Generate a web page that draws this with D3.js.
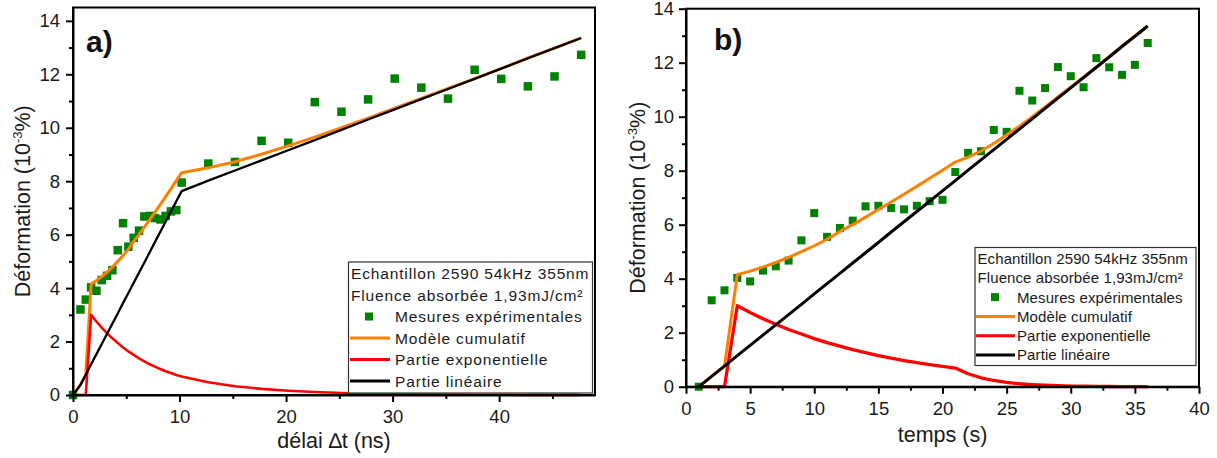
<!DOCTYPE html>
<html><head><meta charset="utf-8">
<script src="https://cdn.jsdelivr.net/npm/d3@7"></script>
<style>
html,body{margin:0;padding:0;background:#fff;}
svg{display:block;font-family:"Liberation Sans",Arial,sans-serif;}
</style></head>
<body><svg id="c" width="1217" height="458"></svg>
<script>
// ---------- DATA ----------
const measValues = [0.0, 3.2, 3.57, 4.03, 3.9, 4.3, 4.46, 4.67, 5.42, 6.43, 5.55, 5.88, 6.15, 6.68, 6.7, 6.62, 6.57, 6.7, 6.87, 6.92, 7.95, 8.66, 8.72, 9.51, 9.44, 10.96, 10.6, 11.06, 11.84, 11.5, 11.09, 12.17, 11.83, 11.55, 11.92, 12.73];
const delaysNs = [0, 0.7, 1.2, 1.7, 2.2, 2.7, 3.2, 3.7, 4.2, 4.7, 5.2, 5.7, 6.2, 6.7, 7.2, 7.7, 8.2, 8.7, 9.2, 9.7, 10.2, 12.7, 15.2, 17.7, 20.2, 22.7, 25.2, 27.7, 30.2, 32.7, 35.2, 37.7, 40.2, 42.7, 45.2, 47.7];
const tempsS = [1, 2, 3, 4, 5, 6, 7, 8, 9, 10, 11, 12, 13, 14, 15, 16, 17, 18, 19, 20, 21, 22, 23, 24, 25, 26, 27, 28, 29, 30, 31, 32, 33, 34, 35, 36];
const modeleCumulatif = [0, 0.38, 0.76, 4.15, 4.28, 4.43, 4.60, 4.79, 5.00, 5.22, 5.46, 5.75, 6.00, 6.28, 6.56, 6.84, 7.13, 7.42, 7.72, 8.02, 8.32, 8.50, 8.73, 9.01, 9.32, 9.65, 10.00, 10.36, 10.73, 11.10, 11.47, 11.84, 12.22, 12.61, 12.98, 13.36];
const partieExpo = [0, 0, 0, 3.0, 2.75, 2.52, 2.31, 2.12, 1.95, 1.78, 1.63, 1.50, 1.37, 1.26, 1.15, 1.06, 0.97, 0.89, 0.82, 0.75, 0.69, 0.48, 0.33, 0.23, 0.16, 0.11, 0.077, 0.053, 0.037, 0.025, 0.018, 0.012, 0.008, 0.006, 0.004, 0.003];
const partieLineaire = [0, 0.38, 0.76, 1.15, 1.53, 1.91, 2.29, 2.67, 3.05, 3.44, 3.82, 4.20, 4.58, 4.96, 5.34, 5.73, 6.11, 6.49, 6.87, 7.25, 7.63, 8.02, 8.40, 8.78, 9.16, 9.54, 9.92, 10.31, 10.69, 11.07, 11.45, 11.83, 12.21, 12.60, 12.98, 13.36];
const yTicks = [0, 2, 4, 6, 8, 10, 12, 14];
const yMinorTicks = [1, 3, 5, 7, 9, 11, 13];
const xTicksA = [0, 10, 20, 30, 40];
const xMinorTicksA = [5, 15, 25, 35, 45];
const xTicksB = [0, 5, 10, 15, 20, 25, 30, 35, 40];
const xMinorTicksB = [2.5, 7.5, 12.5, 17.5, 22.5, 27.5, 32.5, 37.5];
const legendHeader = ["Echantillon 2590 54kHz 355nm", "Fluence absorbée 1,93mJ/cm²"];
const seriesNames = ["Mesures expérimentales", "Modèle cumulatif", "Partie exponentielle", "Partie linéaire"];
const panelLabels = ["a)", "b)"];
const xTitles = ["délai \u2206t (ns)", "temps (s)"];

// ---------- DRAW ----------
const svg = d3.select("#c");
const COL = {meas:"#008000", cum:"#FF8000", exp:"#FF0000", lin:"#000000"};

const panels = [
  {xs: delaysNs, left:73, right:595, top:7.5, bottom:395, xDom:[0,49], yDom:[0,14.5],
   xt:xTicksA, xm:xMinorTicksA, label:panelLabels[0], labelX:86, labelY:52, xTitle:xTitles[0],
   xTitleY:448, yTitleX:29.5, ytPad:6, w:{cum:3,exp:2.6,lin:2.3}, msz:8.5,
   leg:{x:348.5,y:262,w:244,h:131,row0:273.5,dr:21.5,tx:351,lx0:350,lx1:390,sx:369,stx:395,fs:15.5,ls:0.85}},
  {xs: tempsS, left:686, right:1199, top:8.7, bottom:386.7, xDom:[0,40], yDom:[0,14],
   xt:xTicksB, xm:xMinorTicksB, label:panelLabels[1], labelX:714, labelY:50, xTitle:xTitles[1],
   xTitleY:442, yTitleX:645, ytPad:5, w:{cum:3,exp:3.3,lin:3}, msz:8,
   leg:{x:975,y:247.5,w:221,h:118,row0:258.5,dr:19.3,tx:977.5,lx0:976,lx1:1015,sx:995,stx:1017,fs:15,ls:0.1}}
];

panels.forEach(p => {
  const x = d3.scaleLinear().domain(p.xDom).range([p.left, p.right]);
  const y = d3.scaleLinear().domain(p.yDom).range([p.bottom, p.top]);
  const g = svg.append("g");

  // data layer
  const idx = d3.range(p.xs.length);
  g.selectAll("rect.m").data(idx).join("rect")
    .attr("x", i => x(p.xs[i]) - p.msz/2).attr("y", i => y(measValues[i]) - p.msz/2)
    .attr("width", p.msz).attr("height", p.msz).attr("fill", COL.meas);

  const mk = arr => d3.line().x(i => x(p.xs[i])).y(i => y(arr[i]));
  g.append("path").attr("d", mk(modeleCumulatif)(idx)).attr("fill","none")
    .attr("stroke", COL.cum).attr("stroke-width", p.w.cum).attr("stroke-linejoin","round");
  g.append("path").attr("d", mk(partieExpo)(idx)).attr("fill","none")
    .attr("stroke", COL.exp).attr("stroke-width", p.w.exp).attr("stroke-linejoin","round");
  g.append("path").attr("d", mk(partieLineaire)(idx)).attr("fill","none")
    .attr("stroke", COL.lin).attr("stroke-width", p.w.lin).attr("stroke-linejoin","round");

  // frame
  g.append("rect").attr("x", p.left).attr("y", p.top).attr("width", p.right-p.left)
    .attr("height", p.bottom-p.top).attr("fill","none").attr("stroke","#000").attr("stroke-width",2);

  // axes
  const xa = g.append("g").attr("transform", `translate(0,${p.bottom})`)
    .call(d3.axisBottom(x).tickValues(p.xt).tickSize(7).tickSizeOuter(0).tickPadding(8).tickFormat(d3.format("d")));
  g.append("g").attr("transform", `translate(0,${p.bottom})`)
    .call(d3.axisBottom(x).tickValues(p.xm).tickSize(4).tickSizeOuter(0).tickFormat(""))
    .select(".domain").remove();
  const ya = g.append("g").attr("transform", `translate(${p.left},0)`)
    .call(d3.axisLeft(y).tickValues(yTicks).tickSize(7).tickSizeOuter(0).tickPadding(p.ytPad).tickFormat(d3.format("d")));
  g.append("g").attr("transform", `translate(${p.left},0)`)
    .call(d3.axisLeft(y).tickValues(yMinorTicks).tickSize(4).tickSizeOuter(0).tickFormat(""))
    .select(".domain").remove();
  g.selectAll(".domain").attr("stroke-width", 2);
  g.selectAll(".tick line").attr("stroke-width", 2);
  g.selectAll(".tick text").attr("font-size", 18.5).attr("fill","#1a1a1a")
    .attr("font-family","'Liberation Sans',Arial,sans-serif");

  // titles
  g.append("text").attr("x", (p.left+p.right)/2).attr("y", p.xTitleY).attr("text-anchor","middle")
    .attr("font-size", 21.5).attr("fill","#1a1a1a").text(p.xTitle);
  const yt = g.append("text").attr("transform", `translate(${p.yTitleX},${(p.top+p.bottom)/2}) rotate(-90)`)
    .attr("text-anchor","middle").attr("font-size", 21.5).attr("fill","#1a1a1a");
  yt.append("tspan").text("Déformation (10");
  yt.append("tspan").attr("font-size", 13).attr("dy", -8).text("-3");
  yt.append("tspan").attr("dy", 8).text("%)");

  g.append("text").attr("x", p.labelX).attr("y", p.labelY).attr("font-size", 30)
    .attr("font-weight","bold").attr("fill","#111").text(p.label);

  // legend
  const L = p.leg;
  const lg = g.append("g");
  lg.append("rect").attr("x", L.x).attr("y", L.y).attr("width", L.w).attr("height", L.h)
    .attr("fill","#fff").attr("stroke","#333").attr("stroke-width",1.2);
  legendHeader.forEach((t,i) => {
    lg.append("text").attr("x", L.tx).attr("y", L.row0 + i*L.dr + L.fs*0.36)
      .attr("font-size", L.fs).attr("letter-spacing", L.ls).attr("fill","#1a1a1a").text(t);
  });
  const cols = [COL.meas, COL.cum, COL.exp, COL.lin];
  seriesNames.forEach((t,i) => {
    const cy = L.row0 + (i+2)*L.dr;
    if (i === 0) {
      lg.append("rect").attr("x", L.sx-4).attr("y", cy-4).attr("width",8).attr("height",8).attr("fill", cols[i]);
    } else {
      lg.append("line").attr("x1", L.lx0).attr("x2", L.lx1).attr("y1", cy).attr("y2", cy)
        .attr("stroke", cols[i]).attr("stroke-width", 3);
    }
    lg.append("text").attr("x", L.stx).attr("y", cy + L.fs*0.36)
      .attr("font-size", L.fs).attr("letter-spacing", L.ls).attr("fill","#1a1a1a").text(t);
  });
});
</script></body></html>
